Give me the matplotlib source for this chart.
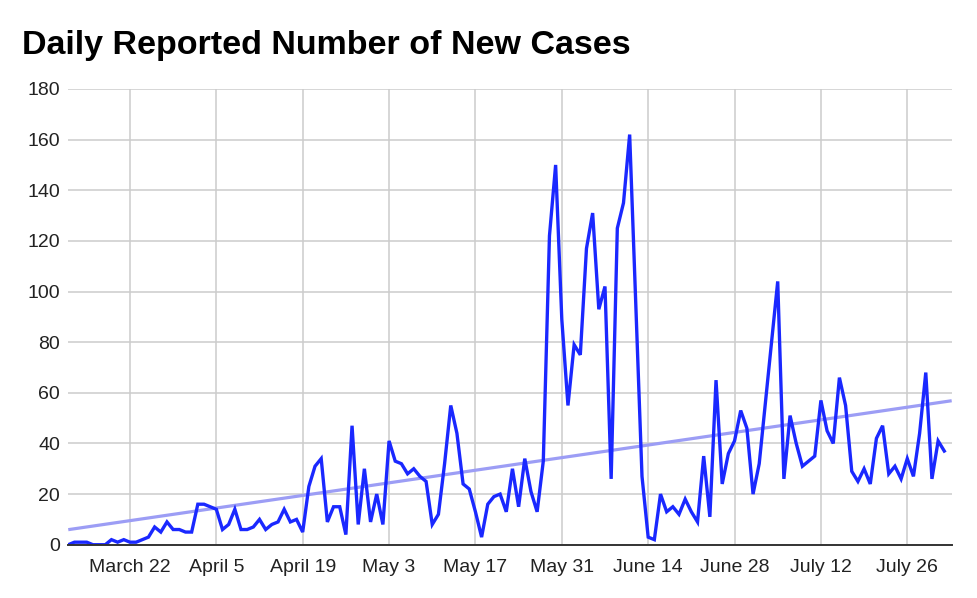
import numpy as np
import pandas as pd
import matplotlib
matplotlib.use("Agg")
import matplotlib.pyplot as plt

# daily new cases, one value per day starting March 12
start_date = "2020-03-12"
new_cases = [
    0, 1, 1, 1, 0, 0, 0, 2, 1, 2, 1, 1, 2, 3, 7, 5, 9, 6, 6, 5,
    5, 16, 16, 15, 14, 6, 8, 14, 6, 6, 7, 10, 6, 8, 9, 14, 9, 10, 5, 23,
    31, 34, 9, 15, 15, 4, 47, 8, 30, 9, 20, 8, 41, 33, 32, 28, 30, 27, 25, 8,
    12, 32, 55, 44, 24, 22, 13, 3, 16, 19, 20, 13, 30, 15, 34, 21, 13, 33, 122, 150,
    89, 55, 79, 75, 117, 131, 93, 102, 26, 125, 135, 162, 94, 27, 3, 2, 20, 13, 15, 12,
    18, 13, 9, 35, 11, 65, 24, 36, 41, 53, 46, 20, 32, 56, 80, 104, 26, 51, 40, 31,
    33, 35, 57, 45, 40, 66, 55, 29, 25, 30, 24, 42, 47, 28, 31, 26, 34, 27, 44, 68,
    26, 41, 37,
]
tick_dates = ["2020-03-22", "2020-04-05", "2020-04-19", "2020-05-03", "2020-05-17",
              "2020-05-31", "2020-06-14", "2020-06-28", "2020-07-12", "2020-07-26"]
y_ticks = list(range(0, 181, 20))
title = "Daily Reported Number of New Cases"

dates = pd.date_range(start_date, periods=len(new_cases), freq="D")
days = (dates - dates[0]).days.values.astype(float)
values = np.array(new_cases, dtype=float)

# linear trendline over the whole series
slope, intercept = np.polyfit(days, values, 1)
x_min, x_max = 0.0, 143.2
trend_x = np.array([x_min, x_max])
trend_y = intercept + slope * trend_x

plt.rcParams["font.family"] = ["Liberation Sans", "DejaVu Sans"]

fig = plt.figure(figsize=(9.78, 5.98), dpi=100)
ax = fig.add_axes([0.0698, 0.0891, 0.9033, 0.7621])

ax.plot(trend_x, trend_y, color="#9c9df5", lw=2.3, solid_capstyle="butt", zorder=2)
ax.plot(days, values, color="#1a28ff", lw=2.4, solid_joinstyle="miter", zorder=3)

tick_pos = [(pd.Timestamp(d) - dates[0]).days for d in tick_dates]
tick_labels = [f"{pd.Timestamp(d):%B} {pd.Timestamp(d).day}" for d in tick_dates]
ax.set_xticks(tick_pos)
ax.set_xticklabels(tick_labels)
ax.set_yticks(y_ticks)
ax.set_xlim(x_min, x_max)
ax.set_ylim(0, 180)

ax.grid(True, color="#cccccc", lw=1.1)
ax.set_axisbelow(True)
for side in ["top", "right", "left"]:
    ax.spines[side].set_visible(False)
ax.spines["bottom"].set_color("#333333")
ax.spines["bottom"].set_linewidth(1.4)
ax.spines["bottom"].set_zorder(4)
ax.tick_params(axis="both", length=0, labelsize=14, colors="#222222")
ax.tick_params(axis="x", pad=10)
ax.tick_params(axis="y", pad=6)

fig.text(0.0225, 1 - 54 / 598, title, fontsize=24.5, fontweight="bold",
         ha="left", va="baseline", color="#000000")

fig.savefig("out.png", dpi=100)
